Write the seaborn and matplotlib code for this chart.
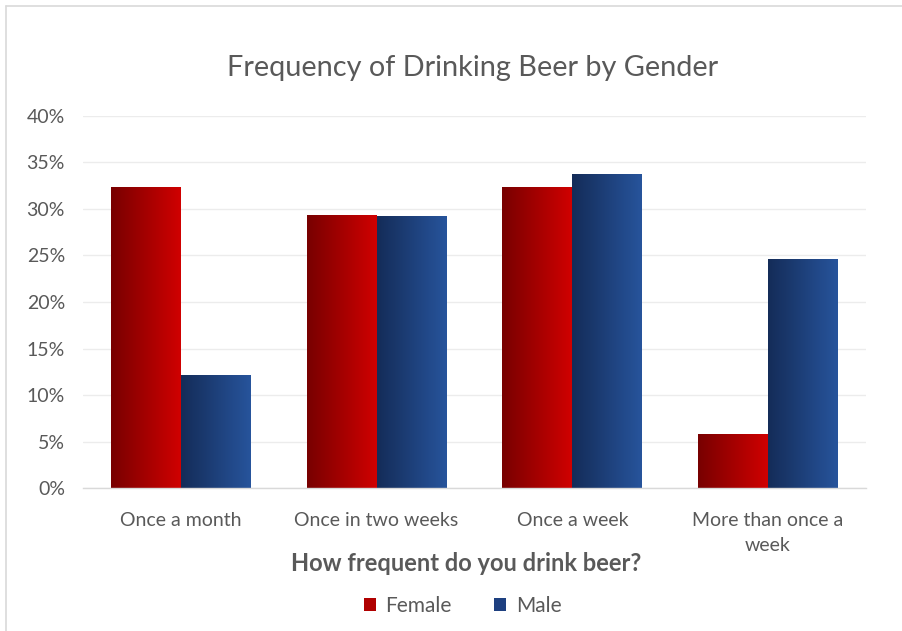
import numpy as np
import pandas as pd
import matplotlib
matplotlib.use("Agg")
import matplotlib.pyplot as plt
from matplotlib.colors import LinearSegmentedColormap
from matplotlib.patches import Rectangle
from matplotlib.lines import Line2D
import seaborn as sns

# Survey results: share of respondents per drinking frequency
categories = ["Once a month", "Once in two weeks", "Once a week", "More than once a\nweek"]
female = [32.4, 29.4, 32.4, 5.8]
male = [12.2, 29.2, 33.8, 24.6]
genders = ["Female", "Male"]
yticks = [0, 5, 10, 15, 20, 25, 30, 35, 40]

df = pd.DataFrame({
    "freq": categories * 2,
    "pct": female + male,
    "gender": ["Female"] * len(categories) + ["Male"] * len(categories),
})

sns.set_theme(style="white")
plt.rcParams["font.family"] = ["Lato", "DejaVu Sans"]
text_grey = "#595959"

fig = plt.figure(figsize=(9.02, 6.31), dpi=100)
ax = fig.add_axes([0.092, 0.2266, 0.868, 0.5896])

grad = {
    "Female": ("#780000", "#d00000"),
    "Male": ("#142c58", "#27549c"),
}

sns.barplot(data=df, x="freq", y="pct", hue="gender", hue_order=genders,
            order=categories, palette={g: grad[g][1] for g in genders},
            width=0.714, legend=False, ax=ax, saturation=1)

# Replace flat fills with left-to-right gradients clipped to each bar
for container, g in zip(ax.containers, genders):
    cmap = LinearSegmentedColormap.from_list(g, grad[g])
    for bar in container:
        x0, y0 = bar.get_x(), bar.get_y()
        w, h = bar.get_width(), bar.get_height()
        bar.set_facecolor("none")
        bar.set_edgecolor("none")
        img = ax.imshow(np.linspace(0, 1, 256).reshape(1, -1), cmap=cmap,
                        extent=[x0, x0 + w, y0, y0 + h], aspect="auto",
                        interpolation="bilinear", zorder=2)
        img.set_clip_path(bar)
ax.set_aspect("auto")
ax.set_xlim(-0.5, len(categories) - 0.5)
ax.set_ylim(0, 40)

ax.set_yticks(yticks)
ax.set_yticklabels([f"{v}%" for v in yticks])
ax.yaxis.grid(True, color="#ececec", linewidth=1.0, zorder=0)
ax.set_axisbelow(True)
for side in ["top", "right", "left"]:
    ax.spines[side].set_visible(False)
ax.spines["bottom"].set_color("#d9d9d9")
ax.spines["bottom"].set_linewidth(1.0)
ax.tick_params(axis="both", length=0, colors=text_grey, labelsize=14)
ax.tick_params(axis="y", pad=13)
ax.tick_params(axis="x", pad=17)
for lbl in ax.get_xticklabels():
    lbl.set_linespacing(1.6)

ax.set_ylabel("")
ax.set_xlabel("How frequent do you drink beer?", fontsize=17, fontweight="bold",
              color=text_grey, va="center")
ax.xaxis.set_label_coords(0.489, -0.2016)

fig.text(0.524, 0.892, "Frequency of Drinking Beer by Gender", ha="center", va="center",
         fontsize=20.8, color=text_grey)

handles = [Rectangle((0, 0), 1, 1, facecolor="#b00000", edgecolor="none"),
           Rectangle((0, 0), 1, 1, facecolor="#1e4080", edgecolor="none")]
fig.legend(handles, genders, loc="center", bbox_to_anchor=(0.513, 0.040), ncol=2,
           frameon=False, fontsize=15, labelcolor=text_grey, handlelength=0.57,
           handleheight=0.57, handletextpad=0.45, columnspacing=2.05)

# Chart frame edges
fig.add_artist(Line2D([0.0066, 0.0066], [0, 0.99], transform=fig.transFigure,
                      color="#d9d9d9", linewidth=1.2))
fig.add_artist(Line2D([0.0066, 1.0], [0.99, 0.99], transform=fig.transFigure,
                      color="#d9d9d9", linewidth=1.2))

fig.savefig("out.png", dpi=100, facecolor="white")
